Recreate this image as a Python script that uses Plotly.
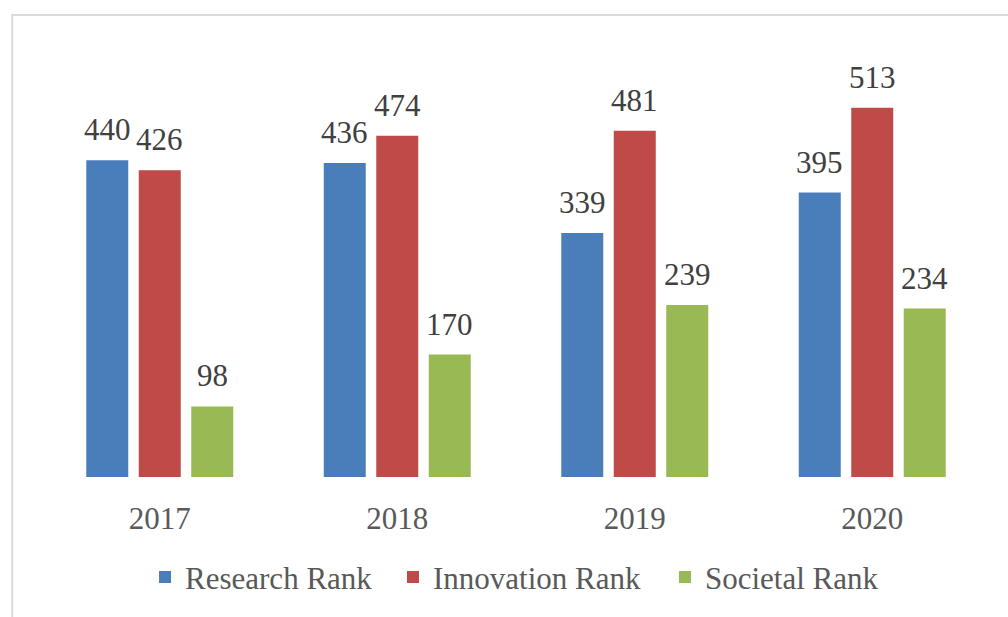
import plotly.graph_objects as go

years = ["2017", "2018", "2019", "2020"]
research_rank = [440, 436, 339, 395]
innovation_rank = [426, 474, 481, 513]
societal_rank = [98, 170, 239, 234]

series = [
    ("Research Rank", research_rank, "#4A7EBB"),
    ("Innovation Rank", innovation_rank, "#BE4B48"),
    ("Societal Rank", societal_rank, "#98B954"),
]

FONT = "Liberation Serif, Times New Roman, serif"
legend_ids = ["legend", "legend2", "legend3"]
legend_x = [0.1095, 0.3705, 0.6568]

fig = go.Figure()
for i, (name, vals, color) in enumerate(series):
    fig.add_trace(go.Bar(
        name=name, x=years, y=vals, marker_color=color,
        marker_line_width=0, offsetgroup=str(i), legend=legend_ids[i],
    ))

# value labels above each bar
n = len(series)
slot = 1 - 0.337
for i, (name, vals, color) in enumerate(series):
    offset = (i - (n - 1) / 2) * slot / n
    for k, v in enumerate(vals):
        fig.add_annotation(
            x=k + offset, y=v, xref="x", yref="y",
            text=str(v), showarrow=False, yanchor="bottom",
            yshift=11, font=dict(family=FONT, size=31, color="#404040"),
        )

legend_font = dict(family=FONT, size=31, color="#595959")
legend_layout = {}
for lid, lx in zip(legend_ids, legend_x):
    legend_layout[lid] = dict(
        orientation="h", x=lx, xanchor="left", y=-0.17, yanchor="top",
        font=legend_font, itemwidth=30, bgcolor="rgba(0,0,0,0)",
    )

fig.update_layout(
    width=1008, height=617,
    margin=dict(l=41, r=17, t=45, b=140),
    paper_bgcolor="white", plot_bgcolor="white",
    barmode="group", bargap=0.337, bargroupgap=0.2,
    font=dict(family=FONT, size=31, color="#595959"),
    showlegend=True,
    xaxis=dict(
        type="category", range=[-0.5, 3.5], showgrid=False, zeroline=False,
        showline=False, ticks="", ticklabelstandoff=20,
        tickfont=dict(family=FONT, size=31, color="#595959"),
    ),
    yaxis=dict(range=[0, 600], visible=False, showgrid=False),
    shapes=[dict(
        type="rect", xref="paper", yref="paper",
        x0=-0.0303, x1=1.2, y0=-0.6, y1=1.0694,
        line=dict(color="#DADADA", width=2), layer="below",
    )],
    **legend_layout,
)

fig.write_html("out.html")
